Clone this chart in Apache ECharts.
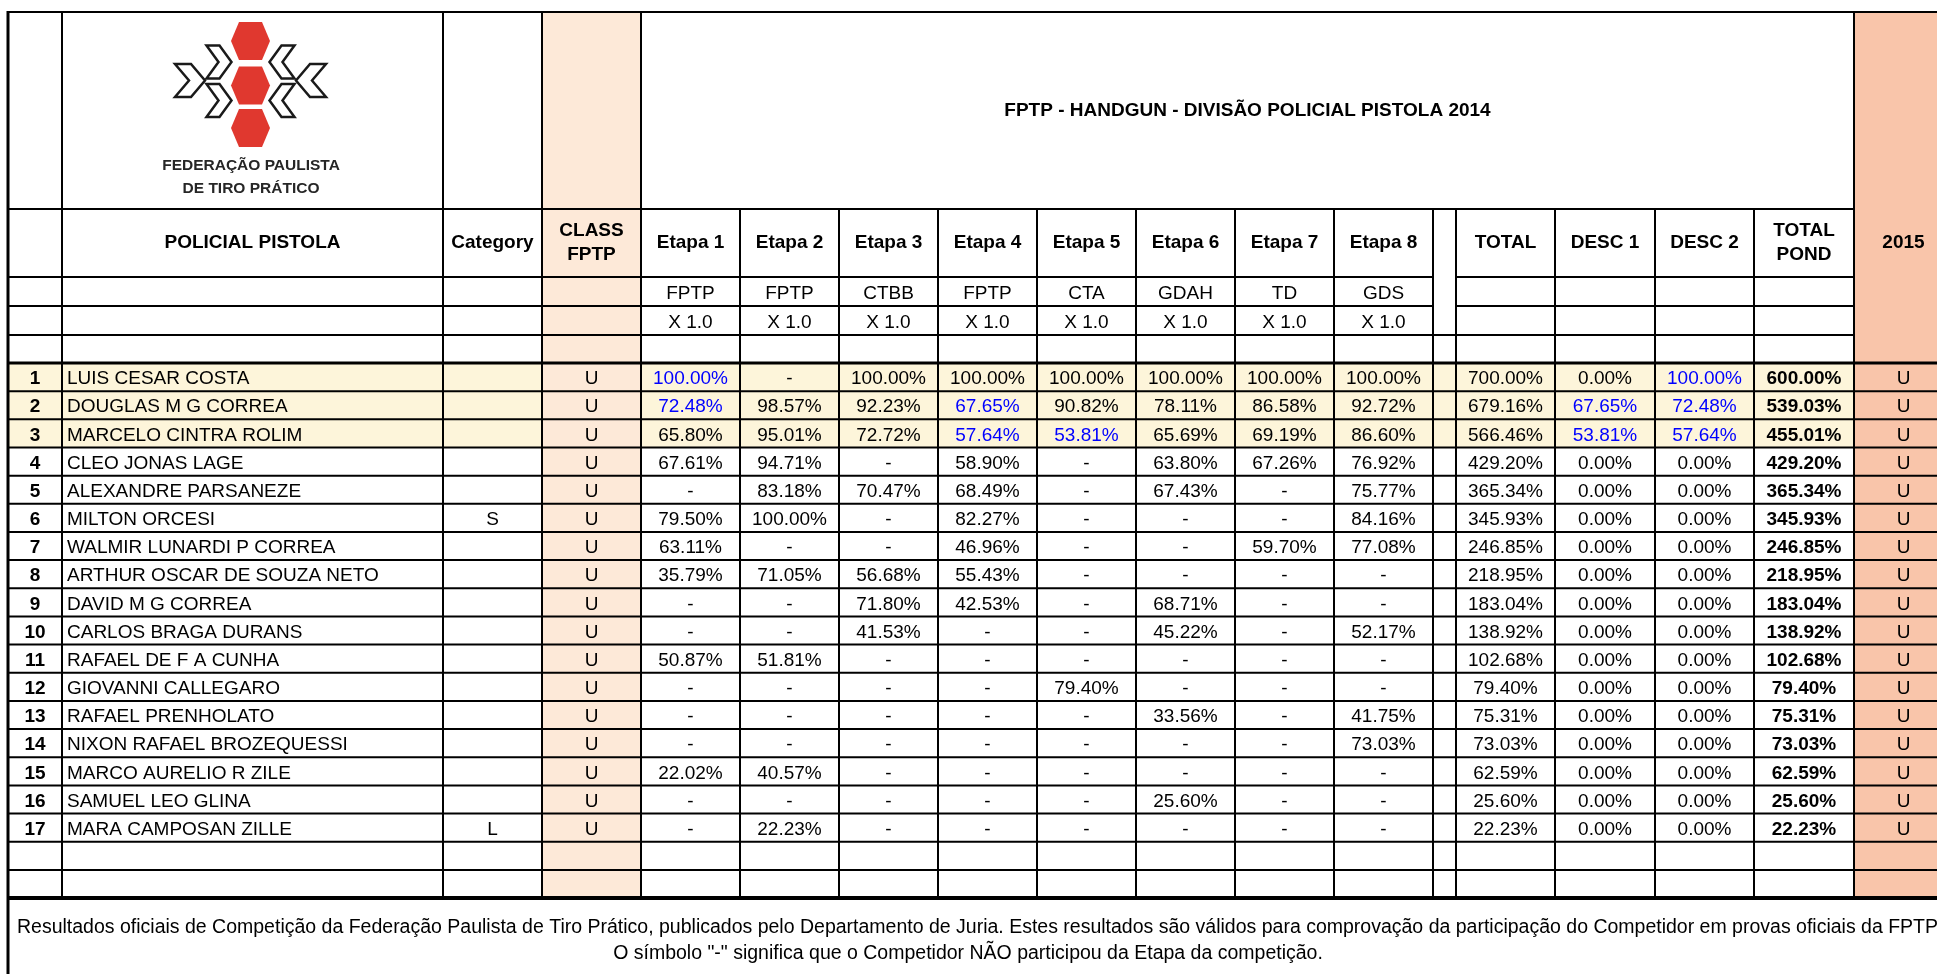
<!DOCTYPE html>
<html>
<head>
<meta charset="utf-8">
<title>FPTP - HANDGUN - DIVISÃO POLICIAL PISTOLA 2014</title>
<script src="https://cdn.jsdelivr.net/npm/echarts@6/dist/echarts.min.js"></script>
<style>
html, body { margin: 0; padding: 0; background: #fff; }
#tabela { width: 1937px; height: 974px; }
</style>
</head>
<body>
<div id="tabela"></div>
<script>
// dados da planilha
var ranks = [1, 2, 3, 4, 5, 6, 7, 8, 9, 10, 11, 12, 13, 14, 15, 16, 17];
var names = ['LUIS CESAR COSTA', 'DOUGLAS M G CORREA', 'MARCELO CINTRA ROLIM', 'CLEO JONAS LAGE',
    'ALEXANDRE PARSANEZE', 'MILTON ORCESI', 'WALMIR LUNARDI P CORREA', 'ARTHUR OSCAR DE SOUZA NETO',
    'DAVID M G CORREA', 'CARLOS BRAGA DURANS', 'RAFAEL DE F A CUNHA', 'GIOVANNI CALLEGARO',
    'RAFAEL PRENHOLATO', 'NIXON RAFAEL BROZEQUESSI', 'MARCO AURELIO R ZILE', 'SAMUEL LEO GLINA',
    'MARA CAMPOSAN ZILLE'];
var categories = ['', '', '', '', '', 'S', '', '', '', '', '', '', '', '', '', '', 'L'];
var classFptp = ['U', 'U', 'U', 'U', 'U', 'U', 'U', 'U', 'U', 'U', 'U', 'U', 'U', 'U', 'U', 'U', 'U'];
var class2015 = ['U', 'U', 'U', 'U', 'U', 'U', 'U', 'U', 'U', 'U', 'U', 'U', 'U', 'U', 'U', 'U', 'U'];
var stageNames = ['Etapa 1', 'Etapa 2', 'Etapa 3', 'Etapa 4', 'Etapa 5', 'Etapa 6', 'Etapa 7', 'Etapa 8'];
var stageClubs = ['FPTP', 'FPTP', 'CTBB', 'FPTP', 'CTA', 'GDAH', 'TD', 'GDS'];
var stageWeights = ['X 1.0', 'X 1.0', 'X 1.0', 'X 1.0', 'X 1.0', 'X 1.0', 'X 1.0', 'X 1.0'];
// null = nao participou ("-")
var stageScores = [
    [100.00, null, 100.00, 100.00, 100.00, 100.00, 100.00, 100.00],
    [72.48, 98.57, 92.23, 67.65, 90.82, 78.11, 86.58, 92.72],
    [65.80, 95.01, 72.72, 57.64, 53.81, 65.69, 69.19, 86.60],
    [67.61, 94.71, null, 58.90, null, 63.80, 67.26, 76.92],
    [null, 83.18, 70.47, 68.49, null, 67.43, null, 75.77],
    [79.50, 100.00, null, 82.27, null, null, null, 84.16],
    [63.11, null, null, 46.96, null, null, 59.70, 77.08],
    [35.79, 71.05, 56.68, 55.43, null, null, null, null],
    [null, null, 71.80, 42.53, null, 68.71, null, null],
    [null, null, 41.53, null, null, 45.22, null, 52.17],
    [50.87, 51.81, null, null, null, null, null, null],
    [null, null, null, null, 79.40, null, null, null],
    [null, null, null, null, null, 33.56, null, 41.75],
    [null, null, null, null, null, null, null, 73.03],
    [22.02, 40.57, null, null, null, null, null, null],
    [null, null, null, null, null, 25.60, null, null],
    [null, 22.23, null, null, null, null, null, null]
];
var discarded = [[0], [0, 3], [3, 4]];
var totals = [700.00, 679.16, 566.46, 429.20, 365.34, 345.93, 246.85, 218.95, 183.04, 138.92, 102.68, 79.40, 75.31, 73.03, 62.59, 25.60, 22.23];
var desc1 = [0.00, 67.65, 53.81, 0, 0, 0, 0, 0, 0, 0, 0, 0, 0, 0, 0, 0, 0];
var desc2 = [100.00, 72.48, 57.64, 0, 0, 0, 0, 0, 0, 0, 0, 0, 0, 0, 0, 0, 0];
var totalPond = [600.00, 539.03, 455.01, 429.20, 365.34, 345.93, 246.85, 218.95, 183.04, 138.92, 102.68, 79.40, 75.31, 73.03, 62.59, 25.60, 22.23];

var title = 'FPTP - HANDGUN - DIVISÃO POLICIAL PISTOLA 2014';
var footer1 = 'Resultados oficiais de Competição da Federação Paulista de Tiro Prático, publicados pelo Departamento de Juria. Estes resultados são válidos para comprovação da participação do Competidor em provas oficiais da FPTP.';
var footer2 = 'O símbolo "-" significa que o Competidor NÃO participou da Etapa da competição.';

// layout da grade (unidades do eixo)
var colEdges = [8, 62, 443, 542, 641, 740, 839, 938, 1037, 1136, 1235, 1334, 1433, 1456, 1555, 1655, 1754, 1854, 1953];
var headEdges = [12, 209, 277, 306, 335, 363];
var rowH = 28.16;
function rowEdge(r) {
    if (r < headEdges.length) return headEdges[r];
    return 363 + (r - 5) * rowH;
}
var lastRow = 5 + 17 + 2; // 17 atletas + 2 linhas vazias
var tableBottom = rowEdge(lastRow);

var FONT = '"Liberation Sans", Arial, Helvetica, sans-serif';
var BLUE = '#0000ff';
var PEACH = '#fde9d8';
var SALMON = '#f9c5aa';
var CREAM = '#fdf5da';

function pct(v) { return v === null ? '-' : v.toFixed(2) + '%'; }

// ---- celulas de texto
var cells = [];
function cellText(c0, c1, r0, r1, text, o) {
    o = o || {};
    var al = o.align || 'center';
    var x = al === 'left' ? colEdges[c0] + 5 : (colEdges[c0] + colEdges[c1]) / 2;
    var y = (rowEdge(r0) + rowEdge(r1)) / 2 + (o.dy || 0);
    cells.push({x: x, y: y, text: text, align: al, bold: !!o.bold, color: o.color || '#000', size: o.size || 19});
}
function freeText(x, y, text, o) {
    cells.push({x: x, y: y, text: text, align: o.align || 'center', bold: !!o.bold, color: o.color || '#000', size: o.size || 19});
}

freeText(251, 166, 'FEDERAÇÃO PAULISTA', {bold: true, size: 15.5, color: '#262626'});
freeText(251, 188.5, 'DE TIRO PRÁTICO', {bold: true, size: 15.5, color: '#262626'});
cellText(4, 17, 0, 1, title, {bold: true});

cellText(1, 2, 1, 2, 'POLICIAL PISTOLA', {bold: true});
cellText(2, 3, 1, 2, 'Category', {bold: true});
cellText(3, 4, 1, 2, 'CLASS\nFPTP', {bold: true});
for (var s = 0; s < 8; s++) {
    cellText(4 + s, 5 + s, 1, 2, stageNames[s], {bold: true});
    cellText(4 + s, 5 + s, 2, 3, stageClubs[s], {dy: 2});
    cellText(4 + s, 5 + s, 3, 4, stageWeights[s], {dy: 2});
}
cellText(13, 14, 1, 2, 'TOTAL', {bold: true});
cellText(14, 15, 1, 2, 'DESC 1', {bold: true});
cellText(15, 16, 1, 2, 'DESC 2', {bold: true});
cellText(16, 17, 1, 2, 'TOTAL\nPOND', {bold: true});
cellText(17, 18, 1, 2, '2015', {bold: true});

for (var i = 0; i < ranks.length; i++) {
    var r = 5 + i;
    cellText(0, 1, r, r + 1, String(ranks[i]), {bold: true, dy: 2});
    cellText(1, 2, r, r + 1, names[i], {align: 'left', dy: 2});
    if (categories[i]) cellText(2, 3, r, r + 1, categories[i], {dy: 2});
    cellText(3, 4, r, r + 1, classFptp[i], {dy: 2});
    for (var k = 0; k < 8; k++) {
        var blue = i < discarded.length && discarded[i].indexOf(k) >= 0;
        cellText(4 + k, 5 + k, r, r + 1, pct(stageScores[i][k]), {dy: 2, color: blue ? BLUE : '#000'});
    }
    cellText(13, 14, r, r + 1, pct(totals[i]), {dy: 2});
    cellText(14, 15, r, r + 1, pct(desc1[i]), {dy: 2, color: desc1[i] > 0 ? BLUE : '#000'});
    cellText(15, 16, r, r + 1, pct(desc2[i]), {dy: 2, color: desc2[i] > 0 ? BLUE : '#000'});
    cellText(16, 17, r, r + 1, pct(totalPond[i]), {bold: true, dy: 2});
    cellText(17, 18, r, r + 1, class2015[i], {dy: 2});
}
freeText(17, 928, footer1, {align: 'left', size: 19.5});
freeText(968, 953.5, footer2, {size: 19.5});

// ---- fundos
var fills = [];
fills.push([colEdges[3], headEdges[0], colEdges[4], tableBottom, PEACH]);
fills.push([colEdges[17], headEdges[0], colEdges[18], tableBottom, SALMON]);
for (var t = 0; t < 3; t++) {
    fills.push([colEdges[0], rowEdge(5 + t), colEdges[3], rowEdge(6 + t), CREAM]);
    fills.push([colEdges[4], rowEdge(5 + t), colEdges[17], rowEdge(6 + t), CREAM]);
}

// ---- bordas [x1, y1, x2, y2, espessura]
var lines = [];
lines.push([colEdges[0], 12, colEdges[18], 12, 2]);
lines.push([colEdges[0], 209, colEdges[17], 209, 2]);
[277, 306].forEach(function (y) {
    lines.push([colEdges[0], y, colEdges[12], y, 2]);
    lines.push([colEdges[13], y, colEdges[17], y, 2]);
});
lines.push([colEdges[0], 335, colEdges[17], 335, 2]);
lines.push([colEdges[0], 363, colEdges[18], 363, 3]);
for (var rr = 6; rr < lastRow; rr++) {
    lines.push([colEdges[0], rowEdge(rr), colEdges[18], rowEdge(rr), 2]);
}
lines.push([colEdges[0], tableBottom, colEdges[18], tableBottom, 4]);
lines.push([colEdges[0], 11, colEdges[0], 974, 3]);
[1, 2, 3, 4, 17].forEach(function (c) {
    lines.push([colEdges[c], 12, colEdges[c], tableBottom, 2]);
});
for (var c = 5; c < 17; c++) {
    lines.push([colEdges[c], 209, colEdges[c], tableBottom, 2]);
}

// ---- logotipo
function hexPts(cx, cy) {
    return [[cx - 11.5, cy - 19], [cx + 11.5, cy - 19], [cx + 19.5, cy], [cx + 11.5, cy + 19], [cx - 11.5, cy + 19], [cx - 19.5, cy]];
}
function chevPts(x, y, w, h, a, mirror) {
    var p = [[x, y], [x + a, y], [x + w, y + h / 2], [x + a, y + h], [x, y + h], [x + w - a, y + h / 2]];
    if (mirror) p = p.map(function (q) { return [501 - q[0], q[1]]; });
    return p;
}
var logo = [];
[41, 85.5, 128].forEach(function (cy) {
    logo.push({type: 'polygon', shape: {points: hexPts(250.5, cy)}, style: {fill: '#e0382f'}});
});
[[175, 64, 30, 33, 16], [206.5, 45.5, 25, 33, 13], [206.5, 84, 25, 33, 13]].forEach(function (ch) {
    [false, true].forEach(function (m) {
        logo.push({type: 'polygon', shape: {points: chevPts(ch[0], ch[1], ch[2], ch[3], ch[4], m)},
            style: {fill: '#fff', stroke: '#1a1a1a', lineWidth: 2.5}});
    });
});

var myChart = echarts.init(document.getElementById('tabela'));
var option = {
    animation: false,
    backgroundColor: '#fff',
    grid: {left: 0, right: 0, top: 0, bottom: 0},
    xAxis: {type: 'value', min: 0, max: 1937, show: false},
    yAxis: {type: 'value', min: 0, max: 974, inverse: true, show: false},
    graphic: {elements: logo},
    series: [
        {
            name: 'fundos',
            type: 'custom',
            z: 1,
            data: fills.map(function (f) { return [f[0], f[1], f[2], f[3]]; }),
            renderItem: function (params, api) {
                var f = fills[params.dataIndex];
                var p0 = api.coord([f[0], f[1]]);
                var p1 = api.coord([f[2], f[3]]);
                return {type: 'rect', shape: {x: p0[0], y: p0[1], width: p1[0] - p0[0], height: p1[1] - p0[1]},
                    style: {fill: f[4]}};
            }
        },
        {
            name: 'bordas',
            type: 'custom',
            z: 2,
            data: lines.map(function (l) { return [l[0], l[1], l[2], l[3]]; }),
            renderItem: function (params, api) {
                var l = lines[params.dataIndex];
                var p0 = api.coord([l[0], l[1]]);
                var p1 = api.coord([l[2], l[3]]);
                return {type: 'line', shape: {x1: p0[0], y1: p0[1], x2: p1[0], y2: p1[1]},
                    style: {stroke: '#000', lineWidth: l[4]}};
            }
        },
        {
            name: 'textos',
            type: 'custom',
            z: 3,
            data: cells.map(function (c) { return [c.x, c.y]; }),
            renderItem: function (params, api) {
                var c = cells[params.dataIndex];
                var p = api.coord([c.x, c.y]);
                return {
                    type: 'text',
                    style: {
                        text: c.text, x: p[0], y: p[1], fill: c.color,
                        font: (c.bold ? 'bold ' : '') + c.size + 'px ' + FONT,
                        align: c.align, verticalAlign: 'middle',
                        textAlign: c.align, textVerticalAlign: 'middle',
                        lineHeight: 24
                    }
                };
            }
        }
    ]
};
myChart.setOption(option);
</script>
</body>
</html>
